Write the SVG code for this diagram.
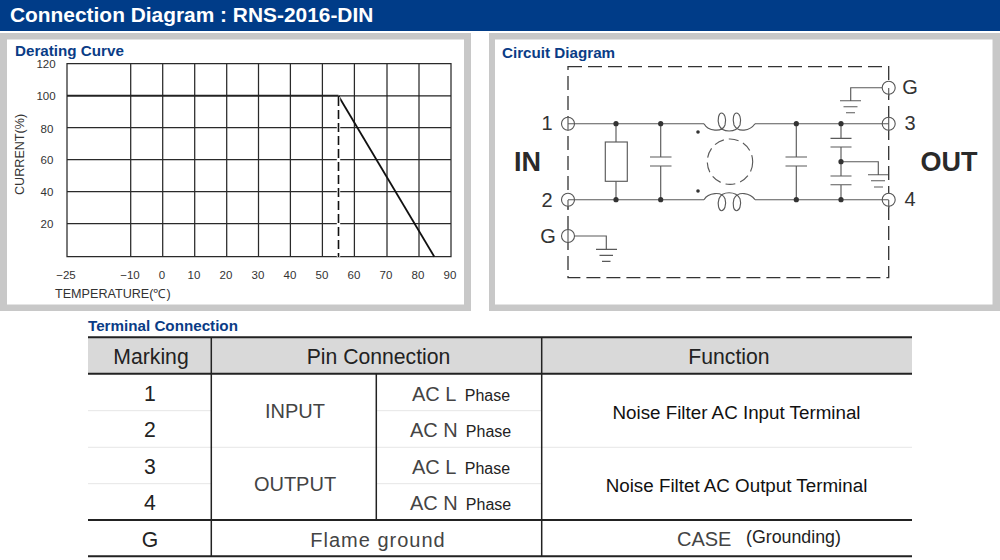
<svg xmlns="http://www.w3.org/2000/svg" width="1000" height="560" viewBox="0 0 1000 560">
<style>
text{font-family:"Liberation Sans",Arial,sans-serif}
.h{font-weight:bold;fill:#0a3c86;font-size:15.2px}
.ax{font-size:11.5px;fill:#333;text-anchor:middle}
.grid{stroke:#2a2a2a;stroke-width:1.25;fill:none}
.w{stroke:#5a5a5a;stroke-width:1.15;fill:none}
.box{stroke:#333;stroke-width:1.3;fill:none;stroke-dasharray:14 6}
.t{fill:#fff;stroke:#555;stroke-width:1.1}
.d{fill:#333}
.n{font-size:20px;fill:#333;text-anchor:middle}
.io{font-size:27px;font-weight:bold;fill:#2a2a2a;text-anchor:middle}
.c{font-size:21.2px;fill:#222;text-anchor:middle}
.l{font-size:20px;fill:#444;text-anchor:middle;font-weight:normal}
.ph{font-size:16px;fill:#222}
.f{font-size:18.8px;fill:#111;text-anchor:middle}
.tk{stroke:#222;stroke-width:2;fill:none}
.th{stroke:#222;stroke-width:1.5;fill:none}
.lt{stroke:#e6e6e6;stroke-width:1;fill:none}
</style>
<rect width="1000" height="560" fill="#fff"/>
<g id="header"><rect width="1000" height="31" fill="#003c88"/>
<text x="10" y="22" font-size="20.9" font-weight="bold" fill="#fff">Connection Diagram : RNS-2016-DIN</text></g>
<g id="derating-panel">
<rect x="0" y="33" width="471" height="278" fill="#c8c8c8"/>
<rect x="7" y="39.5" width="457" height="265" fill="#fff"/>
<text class="h" x="15" y="56">Derating Curve</text>
<path class="grid" d="M67 63.5H451V256.7H67ZM67 127.7H451M67 159.7H451M67 191.7H451M67 223.5H451M130.7 63.5V256.7M162.7 63.5V256.7M194.7 63.5V256.7M226.7 63.5V256.7M258.5 63.5V256.7M290.4 63.5V256.7M322.4 63.5V256.7M354.4 63.5V256.7M387 63.5V256.7M419 63.5V256.7"/>
<path d="M67 95.8H338.5" stroke="#222" stroke-width="1.9" fill="none"/>
<path d="M338.5 95.8H451" stroke="#222" stroke-width="1.25" fill="none"/>
<path d="M338.5 96L434.3 256.7" stroke="#111" stroke-width="1.8" fill="none"/>
<rect x="336.8" y="97" width="3.4" height="160" fill="#fff"/>
<path d="M338.5 97V257" stroke="#111" stroke-width="1.6" stroke-dasharray="9 4" fill="none"/>
<g class="ax">
<text x="46" y="68">120</text><text x="46" y="100">100</text><text x="47" y="133">80</text><text x="47" y="164">60</text><text x="47" y="196">40</text><text x="47" y="228">20</text>
<text x="66" y="279">−25</text><text x="130" y="279">−10</text><text x="162" y="279">0</text><text x="194" y="279">10</text><text x="226" y="279">20</text><text x="258" y="279">30</text><text x="290" y="279">40</text><text x="322" y="279">50</text><text x="354" y="279">60</text><text x="386" y="279">70</text><text x="418" y="279">80</text><text x="450" y="279">90</text>
</g>
<text x="55" y="298" font-size="12.6" fill="#333">TEMPERATURE(℃)</text>
<text transform="translate(24 195) rotate(-90)" font-size="12.6" fill="#333">CURRENT(%)</text>
</g>
<g id="circuit-panel">
<rect x="489" y="33" width="511" height="278" fill="#c8c8c8"/>
<rect x="495" y="39.5" width="497.5" height="265" fill="#fff"/>
<text class="h" x="502" y="58">Circuit Diagram</text>
<text class="io" x="527.5" y="171">IN</text><text class="io" x="949" y="171">OUT</text>
</g>
<g id="connectors">
<path class="box" d="M568 66.7H888.7V277.7H568Z"/>
<path class="w" d="M568 123.7H704M755 123.7H888.7M568 199.7H704M755 199.7H888.7M616 123.7V142M616 181.3V199.7M660.7 123.7V157M660.7 166V199.7M650 157H671.5M650 166H671.5M796.3 123.7V157M796.3 166V199.7M785.5 157H807M785.5 166H807M841 123.7V138.3M841 147V176M841 184.7V199.7M830.5 138.3H851.5M830.5 147H851.5M830.5 176H851.5M830.5 184.7H851.5M841 161.7H878.3V174.7M868 174.7H888M871 180.7H885M874 187H883M575 236H606.3V249.3M596 249.3H617M599.5 255.3H613M602 261.3H610.5M882 87.7H850.7V100.7M840 100.7H861M843.5 106.7H857.5M846 112.7H855"/>
<path class="w" d="M704 123.7C708 131 722 133 725 125C727 118 724 113 721.5 113C719 113 717 119 719 125C722 133 736 133 740 125C742 118 739 113 736.5 113C734 113 732 118 734 125C738 133 750 131 755 123.7"/>
<path class="w" d="M704 199.7C708 192.7 722 190.7 725 198.7C727 205.7 724 210.7 721.5 210.7C719 210.7 717 204.7 719 198.7C722 190.7 736 190.7 740 198.7C742 205.7 739 210.7 736.5 210.7C734 210.7 732 205.7 734 198.7C738 190.7 750 192.7 755 199.7"/>
<circle class="w" cx="730" cy="161.7" r="22.7" stroke-dasharray="10 5"/>
</g>
<g id="resistor"><rect class="w" x="605.3" y="142" width="22" height="39.3"/></g>
<g id="junctions" class="d">
<circle cx="616" cy="123.7" r="2.6"/><circle cx="660.7" cy="123.7" r="2.6"/><circle cx="796.3" cy="123.7" r="2.6"/><circle cx="841" cy="123.7" r="2.6"/>
<circle cx="616" cy="199.7" r="2.6"/><circle cx="660.7" cy="199.7" r="2.6"/><circle cx="796.3" cy="199.7" r="2.6"/><circle cx="841" cy="199.7" r="2.6"/><circle cx="841" cy="161.7" r="2.6"/>
<circle cx="698" cy="132" r="1.8"/><circle cx="698" cy="191" r="1.8"/>
</g>
<g id="terminal-1"><circle class="t" cx="568" cy="123.7" r="6.5"/><path class="w" d="M568 117V130.5M568 123.7H575"/><text class="n" x="547" y="130">1</text></g>
<g id="terminal-2"><circle class="t" cx="568" cy="199.7" r="6.5"/><path class="w" d="M568 200V209M568 199.7H575"/><text class="n" x="547" y="207">2</text></g>
<g id="terminal-G-in"><circle class="t" cx="568" cy="236" r="6.5"/><path class="w" d="M568 229.5V243"/><text class="n" x="548" y="243">G</text></g>
<g id="terminal-G-out"><circle class="t" cx="888.7" cy="87.7" r="6.5"/><path class="w" d="M888.7 88V96"/><text class="n" x="910" y="94">G</text></g>
<g id="terminal-3"><circle class="t" cx="888.7" cy="123.7" r="6.5"/><path class="w" d="M888.7 117V130.5M882 123.7H888.7"/><text class="n" x="910" y="130">3</text></g>
<g id="terminal-4"><circle class="t" cx="888.7" cy="199.7" r="6.5"/><path class="w" d="M888.7 200V208M882 199.7H888.7"/><text class="n" x="910" y="206">4</text></g>
<g id="terminal-table">
<text class="h" x="88" y="331">Terminal Connection</text>
<rect x="88" y="337.3" width="824" height="36.4" fill="#d9d9d9"/>
<path class="lt" d="M88 410.7H211M376.5 410.7H541.5M88 447.3H912M88 483.7H211M376.5 483.7H541.5"/>
<path class="tk" d="M88 337.3H912M88 373.7H912M88 520H912M88 556.3H912"/>
<path class="th" d="M211.3 337.3V556.3M376.3 373.7V520M541.7 337.3V556.3"/>
<text class="c" x="151" y="364">Marking</text><text class="c" x="378.5" y="364">Pin Connection</text><text class="c" x="729" y="364">Function</text>
<text class="c" x="150" y="401">1</text><text class="c" x="150" y="437">2</text><text class="c" x="150" y="474">3</text><text class="c" x="150" y="510">4</text><text class="c" x="150" y="547">G</text>
<text class="l" x="295" y="418">INPUT</text><text class="l" x="295" y="491">OUTPUT</text>
<text class="l" x="412" y="401" style="text-anchor:start">AC L <tspan class="ph" dx="3.5">Phase</tspan></text>
<text class="l" x="410" y="437" style="text-anchor:start">AC N <tspan class="ph" dx="2.5">Phase</tspan></text>
<text class="l" x="412" y="474" style="text-anchor:start">AC L <tspan class="ph" dx="3.5">Phase</tspan></text>
<text class="l" x="410" y="510" style="text-anchor:start">AC N <tspan class="ph" dx="2.5">Phase</tspan></text>
<text class="l" x="378" y="547" letter-spacing="1">Flame ground</text>
<text class="f" x="736.5" y="419">Noise Filter AC Input Terminal</text>
<text class="f" x="736.5" y="492">Noise Filtet AC Output Terminal</text>
<text class="l" x="677" y="546" style="text-anchor:start">CASE</text>
<text class="ph" x="746" y="543" style="font-size:17.8px">(Grounding)</text>
</g>
</svg>
